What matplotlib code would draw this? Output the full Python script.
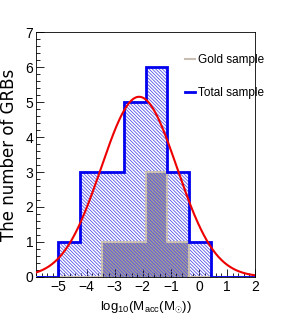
import numpy as np
import matplotlib
matplotlib.use('Agg')
import matplotlib.pyplot as plt
from matplotlib.ticker import MultipleLocator

plt.rcParams['font.family'] = ['Liberation Sans', 'DejaVu Sans']
plt.rcParams['mathtext.fontset'] = 'custom'
plt.rcParams['mathtext.rm'] = 'Liberation Sans'
plt.rcParams['mathtext.it'] = 'Liberation Sans'
plt.rcParams['hatch.color'] = '#5555ea'
plt.rcParams['hatch.linewidth'] = 0.6

# histogram bins (10 bins from -5.8 to 2)
edges = np.linspace(-5.8, 2.0, 11)
total = [0, 1, 3, 3, 5, 6, 3, 1, 0, 0]
gold = [0, 0, 0, 1, 1, 3, 1, 0, 0, 0]

# gaussian fit of total sample
fit_amp, fit_mean, fit_sigma = 5.15, -2.13, 1.35

fig = plt.figure(figsize=(2.84, 3.27), dpi=100)
ax = fig.add_axes([0.127, 0.153, 0.771, 0.749])

ax.stairs(gold, edges, fill=True, facecolor='#a39b95', linewidth=0, zorder=1)
ax.stairs(total, edges, fill=True, facecolor='none', edgecolor='#5555ea',
          hatch='\\' * 10, linewidth=0, zorder=2)
ax.stairs(gold, edges, baseline=None, color='#c8beb4', linewidth=1.5, zorder=3)
ax.stairs(total, edges, baseline=None, color='#0000ee', linewidth=2, zorder=4)

xs = np.linspace(-5.8, 2.0, 300)
ax.plot(xs, fit_amp * np.exp(-(xs - fit_mean) ** 2 / (2 * fit_sigma ** 2)),
        color='#ee0000', linewidth=1.5, zorder=5)

ax.set_xlim(-5.8, 2.0)
ax.set_ylim(0, 7)
ax.xaxis.set_major_locator(MultipleLocator(1))
ax.xaxis.set_minor_locator(MultipleLocator(0.2))
ax.yaxis.set_major_locator(MultipleLocator(1))
ax.yaxis.set_minor_locator(MultipleLocator(0.2))
ax.tick_params(which='both', direction='in', top=False, right=False, labelsize=10, pad=2)
ax.tick_params(which='major', length=6, width=0.6)
ax.tick_params(which='minor', length=3, width=0.6)
for s in ax.spines.values():
    s.set_linewidth(0.6)

ax.set_xlabel(r'log$_{10}$(M$_{acc}$(M$_{\odot}$))', fontsize=9.5, labelpad=4)
ax.set_ylabel('The number of GRBs', fontsize=12, family='DejaVu Sans', labelpad=5)

g, = ax.plot([], [], color='#c8beb4', linewidth=1.5)
t, = ax.plot([], [], color='#0000ee', linewidth=2)
ax.legend([g, t], ['Gold sample', 'Total sample'], loc='upper left', frameon=False,
          fontsize=8.5, handlelength=0.8, handletextpad=0.3, labelspacing=1.8,
          bbox_to_anchor=(0.66, 0.93), borderaxespad=0)

fig.savefig('out.png', dpi=100)
